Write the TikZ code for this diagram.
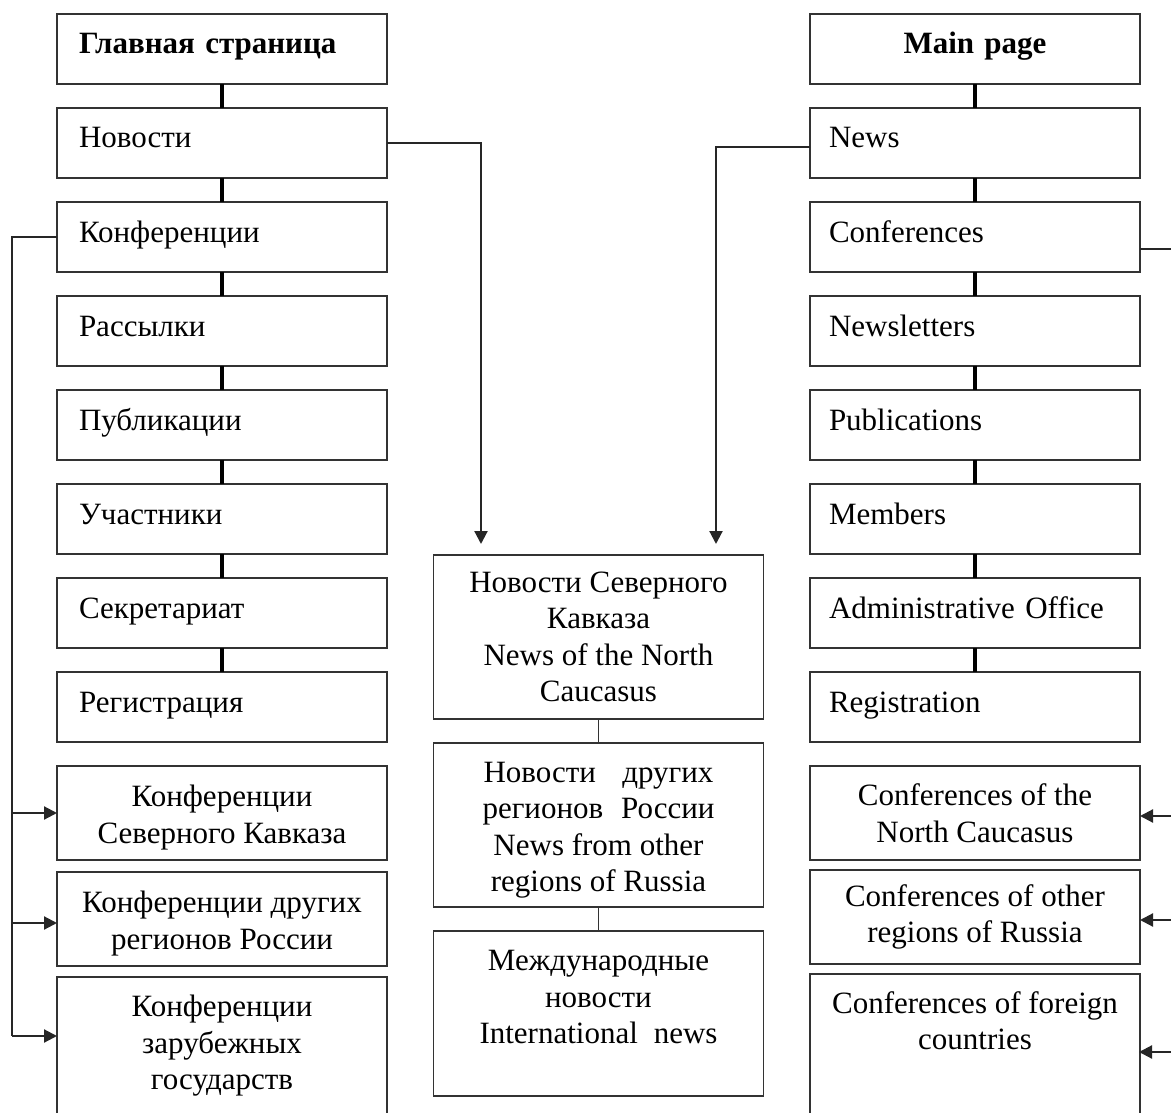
\documentclass[tikz,border=0pt]{standalone}
\usepackage{fontspec}
\setmainfont{Liberation Serif}
\usetikzlibrary{arrows.meta,calc}
\newcommand{\upstrut}{\rule{0pt}{31pt}}
\begin{document}
\begin{tikzpicture}[x=1pt,y=-1pt,
  txt/.style={font=\fontsize{31}{36.5}\selectfont},
  box/.style={txt, draw=black!80, line width=1.8pt, minimum width=330pt, inner sep=0pt, outer sep=0pt},
  sbox/.style={box, minimum height=70pt, text width=286pt, align=left, text height=20pt, text depth=10pt},
  rbox/.style={sbox, text width=292pt},
  cbox/.style={box, align=center},
  vlink/.style={line width=4.5pt, black},
  mlink/.style={line width=1.6pt, black!80},
  conn/.style={line width=2.2pt, black!85},
  arr/.style={conn, -{Triangle[length=13pt,width=13pt]}}
]
\clip (0,0) rectangle (1171,1113);
% left column
\node[sbox] (l1) at (222,49) {\textbf{Главная страница}};
\node[sbox] (l2) at (222,143) {Новости};
\node[sbox] (l3) at (222,237) {Конференции};
\node[sbox] (l4) at (222,331) {Рассылки};
\node[sbox] (l5) at (222,425) {Публикации};
\node[sbox] (l6) at (222,519) {Участники};
\node[sbox] (l7) at (222,613) {Секретариат};
\node[sbox] (l8) at (222,707) {Регистрация};
\node[cbox, minimum height=94pt] (l9) at (222,813) {\upstrut Конференции\\Северного Кавказа};
\node[cbox, minimum height=94pt] (l10) at (222,919) {\upstrut Конференции других\\регионов России};
\node[box, minimum height=170pt, anchor=north] (l11) at (222,977) {};
\node[txt, align=center, anchor=north, inner sep=0pt] (l11t) at (222,995) {Конференции\\зарубежных\\государств};
% right column
\node[rbox, align=center] (r1) at (975,49) {\textbf{Main page}};
\node[rbox] (r2) at (975,143) {News};
\node[rbox] (r3) at (975,237) {Conferences};
\node[rbox] (r4) at (975,331) {Newsletters};
\node[rbox] (r5) at (975,425) {Publications};
\node[rbox] (r6) at (975,519) {Members};
\node[rbox] (r7) at (975,613) {Administrative Office};
\node[rbox] (r8) at (975,707) {Registration};
\node[cbox, minimum height=94pt] (r9) at (975,813) {Conferences of the\\North Caucasus};
\node[cbox, minimum height=94pt] (r10) at (975,917) {Conferences of other\\regions of Russia};
\node[box, minimum height=170pt, anchor=north] (r11) at (975,974) {};
\node[txt, align=center, anchor=north, inner sep=0pt] (r11t) at (975,991) {Conferences of foreign\\countries};
% middle column
\node[cbox, minimum height=164pt] (mA) at (598.5,637) {Новости Северного\\Кавказа\\News of the North\\Caucasus};
\node[cbox, minimum height=164pt] (mB) at (598.5,825) {\upstrut\makebox[230pt][s]{Новости других}\\\makebox[232pt][s]{регионов России}\\News from other\\regions of Russia};
\node[box, minimum height=165pt, anchor=north] (mC) at (598.5,931) {};
\node[txt, align=center, anchor=north, inner sep=0pt] (mCt) at (598.5,950) {Международные\\новости\\\makebox[238pt][s]{International news}};
% vertical links
\foreach \a/\b in {l1/l2,l2/l3,l3/l4,l4/l5,l5/l6,l6/l7,l7/l8,r1/r2,r2/r3,r3/r4,r4/r5,r5/r6,r6/r7,r7/r8}
  \draw[vlink] (\a) -- (\b);
\draw[mlink] (mA) -- (mB);
\draw[mlink] (mB) -- (mC);
% news arrows
\coordinate (aL) at (481,544);
\coordinate (aR) at (716,544);
\draw[arr] (l2.east) -| (aL);
\draw[arr] ($(r2.west)+(0,4)$) -| (aR);
% left conference bus
\coordinate (lbus) at (12,1036);
\coordinate (l11in) at (57,1036);
\draw[conn] (l3.west) -| (lbus);
\draw[arr] (lbus |- l9.west) -- (l9.west);
\draw[arr] ($(lbus |- l10.west)+(0,4)$) -- ($(l10.west)+(0,4)$);
\draw[arr] (lbus) -- (l11in);
% right conference bus
\coordinate (rbus) at (1182,1052);
\coordinate (r11in) at (1139,1052);
\draw[conn] ($(r3.east)+(0,12)$) -| (rbus);
\draw[arr] ($(rbus |- r9.west)+(0,3)$) -- ($(r9.east)+(0,3)$);
\draw[arr] ($(rbus |- r10.west)+(0,3)$) -- ($(r10.east)+(0,3)$);
\draw[arr] (rbus) -- (r11in);
\end{tikzpicture}
\end{document}
